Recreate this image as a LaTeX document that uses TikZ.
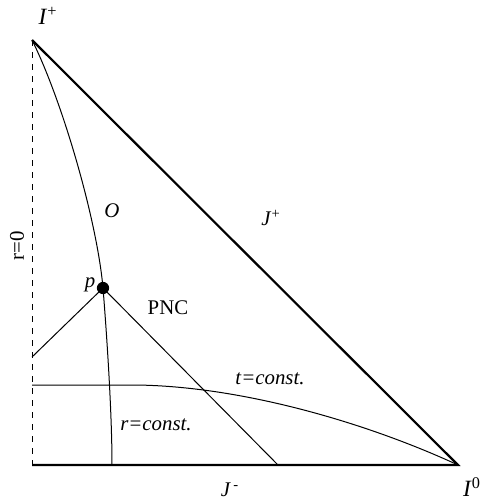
\documentclass[tikz,border=0pt]{standalone}
\usepackage{fontspec}
\setmainfont{Liberation Serif}
\usetikzlibrary{arrows.meta,calc,positioning}
\tikzset{
  line cap=round,
  line join=round,
  bound/.style={line width=1.3pt},
  axis/.style={dashed, dash pattern=on 3.6pt off 3.6pt, line width=0.6pt},
  thinline/.style={line width=0.6pt},
  point/.style={circle, fill, inner sep=2.6pt},
  lbl/.style={font=\fontsize{12.5}{14}\selectfont, inner sep=0pt},
  biglbl/.style={font=\fontsize{14}{16}\selectfont, inner sep=0pt}
}

\begin{document}
\begin{tikzpicture}[x=0.6pt,y=-0.6pt]
  \useasboundingbox (0,0) rectangle (483,502);

  \coordinate (Iplus) at (32,40);
  \coordinate (origin) at (32,465);
  \coordinate (Izero) at (458,465);
  \coordinate (coneL) at (32,357);
  \coordinate (coneR) at (278,465);
  \coordinate (rfoot) at (112,465);
  \coordinate (tstart) at (32,385);
  \coordinate (tbend) at (135,385);
  \node[point] (p) at (103,288) {};

  % boundary of the diagram
  \draw[axis] (Iplus) -- (origin);
  \draw[bound] (origin) -- (Izero) -- (Iplus);

  % r = const. worldline through p
  \draw[thinline] (Iplus) .. controls (62,100) and (97,220) .. (p.center)
    .. controls (108,350) and (112,420) .. (rfoot);

  % past null cone of p
  \draw[thinline] (coneL) -- (p.center) -- (coneR);

  % t = const. slice
  \draw[thinline] (tstart) -- (tbend) .. controls (240,386) and (365,422) .. (Izero);

  \node[biglbl] (lIplus) at (48,16) {\textit{I}\textsuperscript{+}};
  \node[lbl, rotate=90] (lr0) at (17,246) {r=0};
  \node[lbl] (lO) at (112,211) {\textit{O}};
  \node[lbl] (lJplus) at (271,218) {\textit{J}\textsuperscript{+}};
  \node[lbl] (lp) at (90,285) {\textit{p}};
  \node[lbl] (lPNC) at (168,308) {PNC};
  \node[lbl] (lt) at (270,379) {\textit{t=const.}};
  \node[lbl] (lr) at (156,425) {\textit{r=const.}};
  \node[lbl] (lJminus) at (230,490) {\textit{J}\textsuperscript{\,-}};
  \node[biglbl] (lIzero) at (472,487) {\textit{I}\textsuperscript{0}};
\end{tikzpicture}
\end{document}
